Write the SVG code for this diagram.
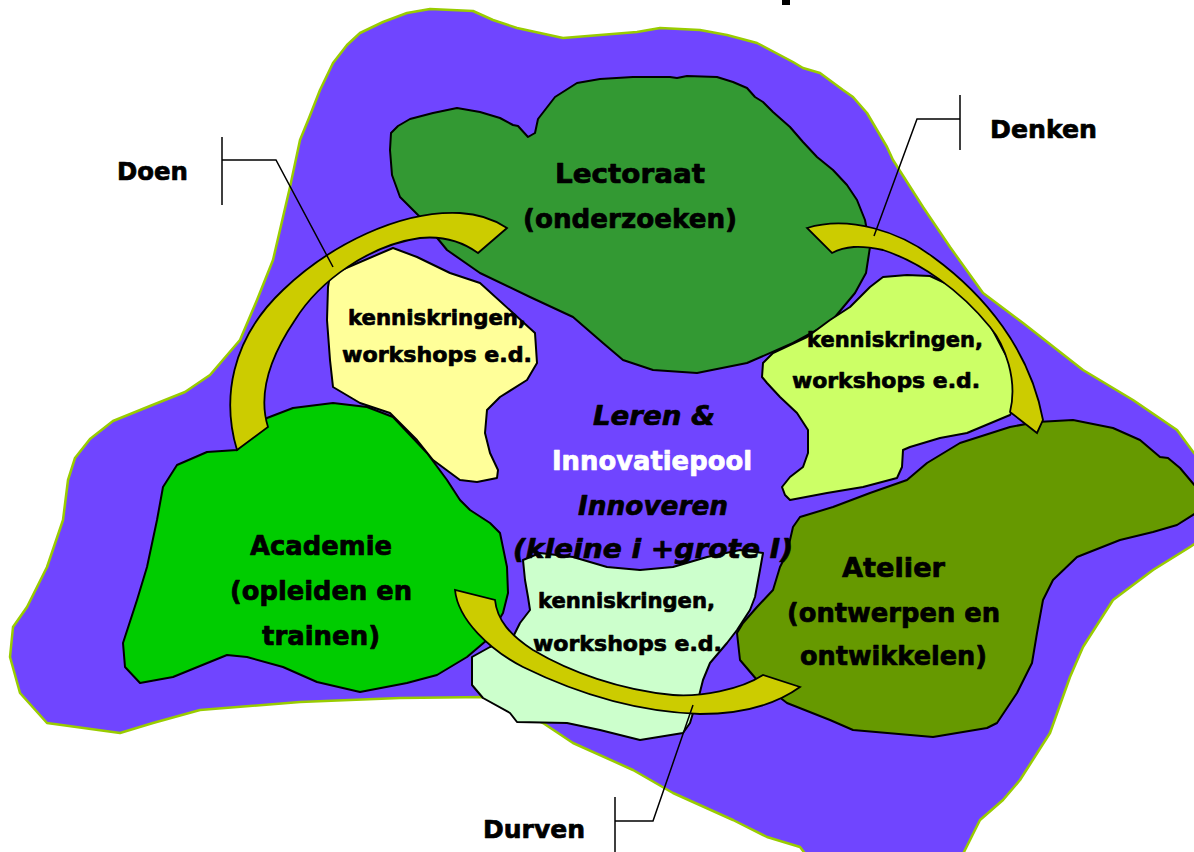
<svg xmlns="http://www.w3.org/2000/svg" width="1194" height="852" viewBox="0 0 1194 852">
<style>
.blob{stroke:#000;stroke-width:2;stroke-linejoin:round}
.arr{fill:#CCCC00;stroke:#000;stroke-width:1.8;stroke-linejoin:miter}
.lbl{font-family:"DejaVu Sans","Liberation Sans",sans-serif;font-weight:bold;fill:#000;stroke:#000;stroke-width:0.7;stroke-linejoin:round}
.wht{fill:#fff;stroke:#fff}
.big{font-size:26px}
.sm{font-size:21px}
.it{font-style:italic}
.call{fill:none;stroke:#000;stroke-width:1.5}
</style>
<rect width="1194" height="852" fill="#fff"/>
<rect x="782" y="0" width="8" height="5" fill="#000"/>
<g id="pool">
<path d="M120,733 L47,723 L20,693 L10,657 L13,627 L27,607 L47,567 L63,520 L68,480 L75,458 L90,439 L113,421 L150,406 L185,392 L210,375 L240,340 L257,300 L273,260 L283,217 L290,187 L300,140 L309,118 L320,90 L333,63 L347,45 L360,33 L383,22 L407,13 L430,9 L473,11 L493,20 L517,28 L563,38 L600,35 L637,32 L660,28 L700,30 L727,35 L757,43 L793,62 L803,68 L820,73 L843,90 L853,97 L867,113 L877,130 L887,147 L893,160 L923,207 L950,247 L983,293 L1023,323 L1083,370 L1133,400 L1177,430 L1194,453 L1200,460 L1200,540 L1190,547 L1153,570 L1113,600 L1083,647 L1070,677 L1050,733 L1020,780 L1003,800 L980,820 L960,860 L810,860 L800,847 L767,837 L733,820 L673,793 L633,770 L573,743 L543,723 L487,697 L400,698 L300,702 L200,710 L153,723 Z" fill="#7045FF" stroke="#99CC00" stroke-width="2.5" stroke-linejoin="round"/>
<text class="lbl it big" x="593" y="425" textLength="122" lengthAdjust="spacingAndGlyphs">Leren &amp;</text>
<text class="lbl big wht" x="552" y="470" textLength="200" lengthAdjust="spacingAndGlyphs">Innovatiepool</text>
<text class="lbl it big" x="578" y="515" textLength="150" lengthAdjust="spacingAndGlyphs">Innoveren</text>
</g>
<g id="lectoraat">
<path class="blob" fill="#339933" d="M390,150 L391,133 L398,126 L410,119 L433,113 L457,108 L480,112 L500,118 L513,125 L518,126 L528,137 L535,133 L538,119 L555,97 L577,83 L600,79 L633,77 L670,77 L677,78 L687,76 L717,77 L733,82 L747,88 L755,97 L763,102 L773,112 L790,127 L803,142 L817,157 L833,170 L847,185 L857,200 L865,220 L870,247 L866,273 L855,293 L830,323 L793,343 L747,363 L697,373 L653,370 L623,360 L603,343 L573,317 L530,297 L480,273 L447,250 L420,217 L400,197 L392,175 Z"/>
<text class="lbl big" x="555" y="183" textLength="150" lengthAdjust="spacingAndGlyphs">Lectoraat</text>
<text class="lbl big" x="523" y="228" textLength="214" lengthAdjust="spacingAndGlyphs">(onderzoeken)</text>
</g>
<g id="academie">
<path class="blob" fill="#00CC00" d="M237,450 L207,452 L177,465 L163,487 L157,520 L147,567 L137,600 L123,643 L125,667 L140,683 L173,677 L227,655 L247,657 L283,667 L317,682 L360,692 L407,683 L437,675 L467,657 L487,640 L503,613 L508,593 L507,567 L500,533 L490,523 L470,510 L460,500 L447,480 L427,453 L393,417 L367,407 L333,403 L293,408 L267,418 Z"/>
<text class="lbl big" x="250" y="555" textLength="142" lengthAdjust="spacingAndGlyphs">Academie</text>
<text class="lbl big" x="230" y="600" textLength="182" lengthAdjust="spacingAndGlyphs">(opleiden en</text>
<text class="lbl big" x="262" y="645" textLength="118" lengthAdjust="spacingAndGlyphs">trainen)</text>
</g>
<g id="kennis-doen">
<path class="blob" fill="#FFFF99" d="M330,275 L393,248 L417,257 L450,273 L480,283 L513,313 L535,333 L537,363 L527,380 L500,397 L487,410 L485,433 L490,453 L498,470 L497,478 L477,482 L460,480 L433,460 L417,440 L390,413 L360,403 L333,387 L330,360 L327,320 L328,287 Z"/>
<text class="lbl sm" x="348" y="325" textLength="178" lengthAdjust="spacingAndGlyphs">kenniskringen,</text>
<text class="lbl sm" x="342" y="362" textLength="190" lengthAdjust="spacingAndGlyphs">workshops e.d.</text>
</g>
<g id="atelier">
<path class="blob" fill="#669900" d="M800,517 L833,507 L870,493 L907,480 L927,463 L960,443 L1010,427 L1037,422 L1073,420 L1113,428 L1140,440 L1160,457 L1168,458 L1180,468 L1196,487 L1196,513 L1177,525 L1153,532 L1120,540 L1077,557 L1053,580 L1043,600 L1037,633 L1032,663 L1017,693 L997,723 L987,728 L933,737 L853,730 L830,720 L787,703 L757,680 L740,660 L737,633 L743,623 L757,607 L773,590 L780,567 L787,553 L793,527 Z"/>
<text class="lbl big" x="842" y="577" textLength="103" lengthAdjust="spacingAndGlyphs">Atelier</text>
<text class="lbl big" x="787" y="622" textLength="213" lengthAdjust="spacingAndGlyphs">(ontwerpen en</text>
<text class="lbl big" x="800" y="665" textLength="187" lengthAdjust="spacingAndGlyphs">ontwikkelen)</text>
</g>
<g id="kennis-denken">
<path class="blob" fill="#CCFF66" d="M773,353 L807,337 L830,320 L850,307 L870,287 L883,277 L907,275 L930,276 L960,290 L990,325 L1010,363 L1015,390 L1013,410 L1010,415 L967,433 L940,438 L910,447 L903,450 L902,467 L897,478 L863,487 L827,493 L790,500 L785,495 L782,487 L790,477 L803,467 L808,453 L808,430 L797,413 L780,397 L767,383 L762,377 L763,363 Z"/>
<text class="lbl sm" x="807" y="347" textLength="176" lengthAdjust="spacingAndGlyphs">kenniskringen,</text>
<text class="lbl sm" x="792" y="388" textLength="188" lengthAdjust="spacingAndGlyphs">workshops e.d.</text>
</g>
<g id="kennis-durven">
<path class="blob" fill="#CCFFCC" d="M523,560 L540,553 L573,557 L607,567 L640,570 L673,567 L707,557 L740,550 L763,553 L760,570 L755,597 L750,610 L737,630 L727,643 L710,663 L703,680 L698,700 L693,713 L690,723 L683,733 L640,740 L600,730 L567,723 L517,722 L510,713 L483,698 L472,685 L472,657 L490,647 L513,637 L520,623 L530,610 L528,597 L525,580 Z"/>
<text class="lbl sm" x="538" y="608" textLength="177" lengthAdjust="spacingAndGlyphs">kenniskringen,</text>
<text class="lbl sm" x="533" y="651" textLength="189" lengthAdjust="spacingAndGlyphs">workshops e.d.</text>
</g>
<text id="center-sub" class="lbl it big" x="513" y="558" textLength="280" lengthAdjust="spacingAndGlyphs">(kleine i +grote I)</text>
<g id="connectors">
<path class="arr" d="M237,450 C222,400 230,340 283,290 C330,245 400,210 460,213 C480,214 495,220 507,228 L478,253 C460,240 440,236 420,238 C370,245 320,280 295,320 C268,360 258,395 268,427 Z"/>
<path class="arr" d="M807,228 C850,215 900,232 933,257 C985,295 1030,350 1043,420 L1037,433 L1010,412 C1018,380 1005,345 990,327 C960,290 920,262 883,250 C860,245 845,246 832,253 Z"/>
<path class="arr" d="M455,590 C458,620 490,650 523,667 C580,695 640,712 700,714 C740,714 775,705 800,687 L763,675 C740,690 700,697 673,695 C620,690 570,672 533,650 C510,635 497,620 495,600 Z"/>
<path class="call" d="M222,137 L222,205 M222,160 L276,160 L333,267"/>
<path class="call" d="M960,95 L960,150 M960,119 L917,119 L874,236"/>
<path class="call" d="M615,797 L615,852 M615,821 L653,821 L693,705"/>
</g>
<g id="labels">
<text class="lbl" x="117" y="180" font-size="25" textLength="71" lengthAdjust="spacingAndGlyphs">Doen</text>
<text class="lbl" x="990" y="138" font-size="25" textLength="107" lengthAdjust="spacingAndGlyphs">Denken</text>
<text class="lbl" x="483" y="838" font-size="25" textLength="102" lengthAdjust="spacingAndGlyphs">Durven</text>
</g>
</svg>
